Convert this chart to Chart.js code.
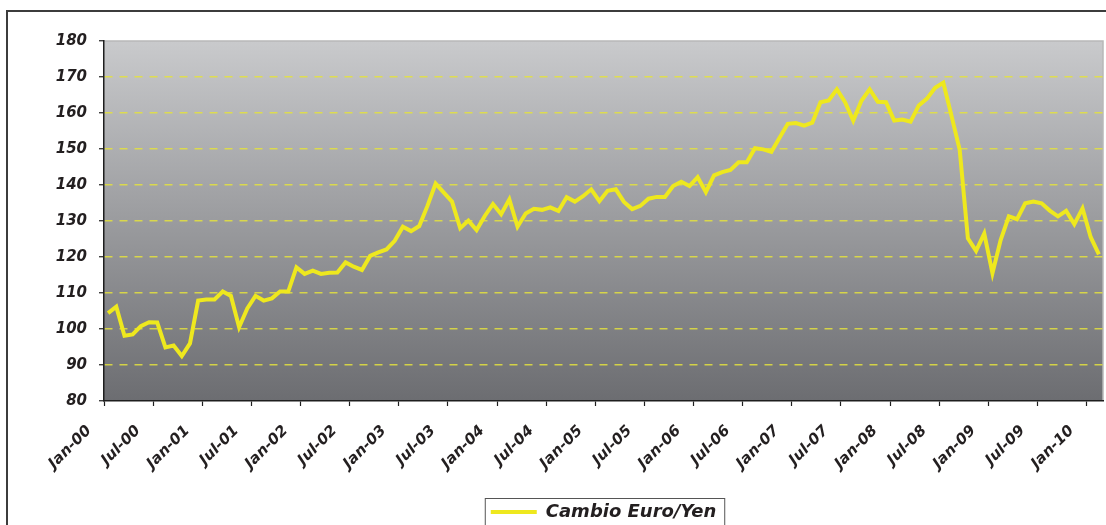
<!DOCTYPE html>
<html>
<head>
<meta charset="utf-8">
<script src="https://cdn.jsdelivr.net/npm/chart.js@4.4.1/dist/chart.umd.min.js"></script>
<style>
	html, body { margin: 0; padding: 0; background: #fff; overflow: hidden; }
	#wrap { width: 1106px; height: 540px; }
	canvas { display: block; }
</style>
</head>
<body>
<div id="wrap"><canvas id="chart" width="1106" height="540"></canvas></div>
<script>
const MONTHS = ['Jan', 'Feb', 'Mar', 'Apr', 'May', 'Jun', 'Jul', 'Aug', 'Sep', 'Oct', 'Nov', 'Dec'];
const YEARS = ['00', '01', '02', '03', '04', '05', '06', '07', '08', '09', '10'];
const SERIES_LABEL = 'Cambio Euro/Yen';

// monthly EUR/JPY, Jan-00 .. Feb-10
const cambioEuroYen = [
	104.4, 106.2, 98.1, 98.5, 100.8, 101.9, 101.8, 94.9, 95.4, 92.5, 96.0, 107.9,
	108.2, 108.2, 110.4, 109.2, 100.5, 105.7, 109.2, 107.9, 108.5, 110.4, 110.4, 117.1,
	115.3, 116.2, 115.3, 115.6, 115.7, 118.5, 117.3, 116.4, 120.3, 121.3, 122.1, 124.5,
	128.4, 127.2, 128.6, 134.2, 140.4, 137.9, 135.4, 128.0, 130.1, 127.5, 131.4, 134.7,
	131.9, 136.0, 128.4, 132.1, 133.4, 133.1, 133.8, 132.8, 136.6, 135.4, 136.9, 138.8,
	135.5, 138.4, 138.8, 135.3, 133.3, 134.2, 136.2, 136.7, 136.7, 139.7, 140.9, 139.7,
	142.2, 138.0, 142.7, 143.6, 144.2, 146.3, 146.3, 150.2, 149.9, 149.2, 153.1, 157.0,
	157.2, 156.5, 157.3, 163.0, 163.5, 166.6, 163.0, 157.9, 163.4, 166.6, 163.1, 163.0,
	157.9, 158.2, 157.6, 162.1, 164.0, 167.0, 168.4, 159.2, 149.8, 125.2, 121.7, 126.5,
	115.5, 124.7, 131.3, 130.5, 134.9, 135.4, 134.9, 132.9, 131.3, 132.8, 129.1, 133.5,
	125.5, 120.7
];

const categories = [];
YEARS.forEach(y => MONTHS.forEach(m => categories.push(m + '-' + y)));
categories.length = cambioEuroYen.length;

const FONT = { family: '"DejaVu Sans", sans-serif', size: 15, style: 'italic', weight: 'bold' };
const TEXT = '#231f20';
const AXIS = '#1e1e1e';

const frame = {
	id: 'frame',
	beforeDraw(chart) {
		const { ctx, chartArea: a } = chart;
		ctx.save();
		ctx.fillStyle = '#fff';
		ctx.fillRect(0, 0, chart.width, chart.height);
		// outer border of the picture
		ctx.strokeStyle = '#3c3c3c';
		ctx.lineWidth = 2;
		ctx.strokeRect(7, 11, chart.width + 40, chart.height + 40);
		// plot area gradient
		const g = ctx.createLinearGradient(0, a.top, 0, a.bottom);
		g.addColorStop(0, '#c9cacc');
		g.addColorStop(1, '#6c6d71');
		ctx.fillStyle = g;
		ctx.fillRect(a.left, a.top, a.width, a.height);
		ctx.strokeStyle = '#b8b8b8';
		ctx.lineWidth = 1.5;
		ctx.beginPath();
		ctx.moveTo(a.left, a.top);
		ctx.lineTo(a.right, a.top);
		ctx.lineTo(a.right, a.bottom);
		ctx.stroke();
		ctx.restore();
	},
	afterDraw(chart) {
		const hb = chart.legend && chart.legend.legendHitBoxes[0];
		if (!hb) return;
		const { ctx } = chart;
		ctx.save();
		ctx.strokeStyle = '#555';
		ctx.lineWidth = 1;
		ctx.strokeRect(hb.left - 5.5, hb.top - 4.5, hb.width + 14, 100);
		ctx.restore();
	}
};

new Chart(document.getElementById('chart').getContext('2d'), {
	type: 'line',
	data: {
		labels: categories,
		datasets: [{
			label: SERIES_LABEL,
			data: cambioEuroYen,
			borderColor: '#eee81e',
			backgroundColor: '#eee81e',
			borderWidth: 4,
			pointRadius: 0,
			tension: 0,
			fill: false
		}]
	},
	options: {
		responsive: false,
		animation: false,
		devicePixelRatio: 1,
		layout: { padding: { top: 41, right: 3, left: 0, bottom: 9 } },
		scales: {
			x: {
				type: 'category',
				offset: true,
				afterFit: s => {
					s.height = 92;
					s.paddingLeft = 0;
					s.paddingRight = 0;
				},
				grid: {
					offset: true,
					drawOnChartArea: false,
					drawTicks: true,
					tickLength: 5,
					tickWidth: 1.2,
					tickColor: c => (c.index % 6 === 0 && c.index < categories.length) ? AXIS : 'rgba(0,0,0,0)'
				},
				border: { color: AXIS, width: 1.5 },
				ticks: {
					autoSkip: false,
					minRotation: 45,
					maxRotation: 45,
					padding: 16,
					labelOffset: -19,
					color: TEXT,
					font: FONT,
					callback: (v, i) => (i % 6 === 0 ? categories[i] : '')
				}
			},
			y: {
				min: 80,
				max: 180,
				afterFit: s => { s.width = 104; },
				ticks: { stepSize: 10, padding: 12, color: TEXT, font: FONT },
				grid: {
					color: c => (c.tick && (c.tick.value === 80 || c.tick.value === 180)) ? 'rgba(0,0,0,0)' : 'rgba(228,226,62,0.85)',
					lineWidth: 1.5,
					tickBorderDash: [],
					tickColor: AXIS,
					tickLength: 5,
					tickWidth: 1.2
				},
				border: { color: AXIS, width: 1.5, dash: [8, 7] }
			}
		},
		plugins: {
			legend: {
				display: true,
				position: 'bottom',
				fullSize: false,
				labels: {
					usePointStyle: true,
					pointStyle: 'line',
					pointStyleWidth: 46,
					padding: 10,
					color: TEXT,
					font: { family: '"DejaVu Sans", sans-serif', size: 18, style: 'italic', weight: 'bold' }
				}
			},
			tooltip: { enabled: false }
		}
	},
	plugins: [frame]
});
</script>
</body>
</html>
